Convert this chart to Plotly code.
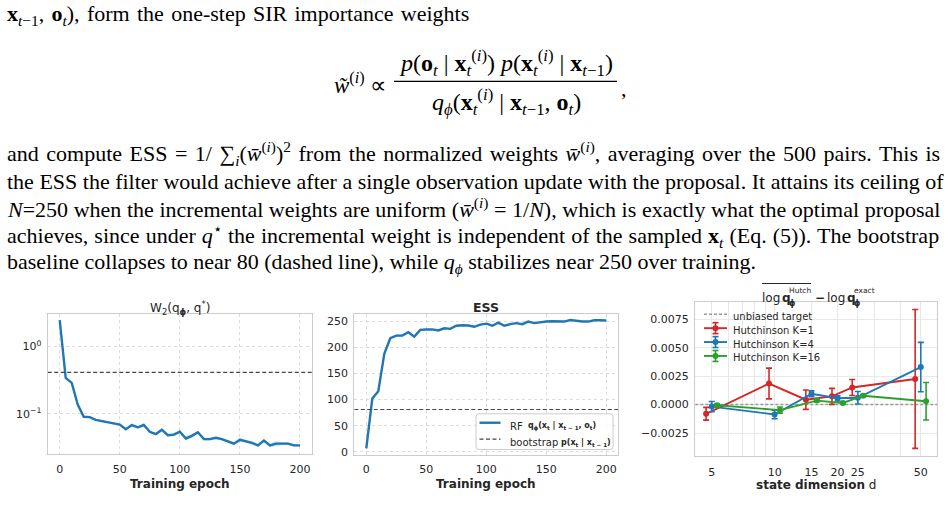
import plotly.graph_objects as go

W, H = 950, 522
def px(x): return x / W
def py(y): return 1 - y / H

# ---------------- data ----------------
epochs = list(range(0, 201, 5))
w2_mean = [2.44, 0.339, 0.286, 0.137, 0.090, 0.089, 0.081, 0.078, 0.076, 0.072, 0.069,
           0.059, 0.068, 0.063, 0.068, 0.054, 0.050, 0.058, 0.048, 0.049, 0.054,
           0.043, 0.047, 0.053, 0.042, 0.042, 0.044, 0.042, 0.039, 0.036, 0.041,
           0.039, 0.037, 0.034, 0.040, 0.034, 0.036, 0.036, 0.036, 0.034, 0.034]
w2_sd = [0.05, 0.01, 0.008, 0.005, 0.003, 0.003, 0.003, 0.003, 0.002, 0.002, 0.002,
         0.002, 0.004, 0.003, 0.005, 0.002, 0.002, 0.003, 0.002, 0.003, 0.003,
         0.003, 0.003, 0.002, 0.002, 0.002, 0.002, 0.002, 0.002, 0.002, 0.003,
         0.002, 0.002, 0.002, 0.002, 0.002, 0.003, 0.002, 0.002, 0.001, 0.001]
w2_bootstrap = 0.41

ess_mean = [6.4, 102, 116, 188, 218, 223, 223, 229.6, 221, 234, 234.7,
            235, 233, 237, 236, 242, 243, 242.5, 240, 244, 246,
            242, 248, 242, 245, 247, 245, 250, 247, 249, 250,
            250.6, 250.6, 250, 253, 251, 250, 250, 252.5, 252.5, 252]
ess_sd = [0.5, 1.5, 1.5, 2.0, 1.5, 2.0, 2.0, 1.5, 1.0, 1.0, 1.0,
          1.0, 1.0, 1.0, 1.0, 1.0, 1.0, 1.0, 1.0, 1.0, 1.0,
          1.0, 1.0, 1.0, 1.0, 1.0, 1.0, 1.0, 1.0, 1.0, 1.0,
          1.0, 1.0, 1.0, 1.0, 1.0, 1.0, 1.0, 1.0, 1.0, 1.0]
ess_bootstrap = 81

dims = [5, 10, 15, 20, 25, 50]
k1_mean = [-0.00081, 0.00185, 0.00043, 0.00072, 0.00150, 0.00225]
k1_err = [0.00056, 0.00135, 0.00085, 0.00070, 0.00070, 0.00610]
k4_mean = [-0.00018, -0.00087, 0.00095, 0.00055, 0.00060, 0.00329]
k4_err = [0.00045, 0.00038, 0.00025, 0.00023, 0.00055, 0.00217]
k16_mean = [-0.00006, -0.00049, 0.00035, 0.00014, 0.00078, 0.00029]
k16_err = [0.00010, 0.00027, 0.00010, 0.00010, 0.00010, 0.00165]

ytick_w2 = [0.1, 1]
ytick_w2_text = ["10<sup>−1</sup>", "10<sup>0</sup>"]
ytick_ess = [0, 50, 100, 150, 200, 250]
xtick_epoch = [0, 50, 100, 150, 200]
ytick_bias = [-0.0025, 0.0, 0.0025, 0.0050, 0.0075]
ytick_bias_text = ["−0.0025", "0.0000", "0.0025", "0.0050", "0.0075"]
xtick_dims = [5, 10, 15, 20, 25, 50]
xminor_dims = [6, 7, 8, 9, 30, 40]

# ---------------- styles ----------------
BLUE = "#1f77b4"
RED = "#d62728"
GREEN = "#2ca02c"
TXT = "#262626"
SANS = "DejaVu Sans"
SERIF = "Liberation Serif"
offsets = {"k1": 0.94, "k4": 1.0, "k16": 1.06}
DY = 3.5  # vertical correction for sans annotations

fig = go.Figure()

# panel 1
lo = [m - s for m, s in zip(w2_mean, w2_sd)]
hi = [m + s for m, s in zip(w2_mean, w2_sd)]
fig.add_trace(go.Scatter(x=epochs + epochs[::-1], y=hi + lo[::-1], fill="toself",
                         fillcolor="rgba(31,119,180,0.22)", line=dict(width=0),
                         hoverinfo="skip", showlegend=False, xaxis="x", yaxis="y"))
fig.add_trace(go.Scatter(x=epochs, y=w2_mean, mode="lines", line=dict(color=BLUE, width=2.4),
                         showlegend=False, xaxis="x", yaxis="y"))
fig.add_trace(go.Scatter(x=[-10, 210], y=[w2_bootstrap, w2_bootstrap], mode="lines",
                         line=dict(color="#444444", width=1.2, dash="4px,2.5px"),
                         showlegend=False, xaxis="x", yaxis="y"))

# panel 2
lo = [m - s for m, s in zip(ess_mean, ess_sd)]
hi = [m + s for m, s in zip(ess_mean, ess_sd)]
fig.add_trace(go.Scatter(x=epochs + epochs[::-1], y=hi + lo[::-1], fill="toself",
                         fillcolor="rgba(31,119,180,0.22)", line=dict(width=0),
                         hoverinfo="skip", showlegend=False, xaxis="x2", yaxis="y2"))
fig.add_trace(go.Scatter(x=epochs, y=ess_mean, mode="lines", line=dict(color=BLUE, width=2.4),
                         showlegend=False, xaxis="x2", yaxis="y2"))
fig.add_trace(go.Scatter(x=[-10, 210], y=[ess_bootstrap, ess_bootstrap], mode="lines",
                         line=dict(color="#444444", width=1.2, dash="4px,2.5px"),
                         showlegend=False, xaxis="x2", yaxis="y2"))

# panel 3
fig.add_trace(go.Scatter(x=[3, 70], y=[0, 0], mode="lines",
                         line=dict(color="#999999", width=1.4, dash="3px,2px"),
                         showlegend=False, xaxis="x3", yaxis="y3"))
for key, mean, err, col in [("k1", k1_mean, k1_err, RED), ("k4", k4_mean, k4_err, BLUE),
                            ("k16", k16_mean, k16_err, GREEN)]:
    xs = [d * offsets[key] for d in dims]
    fig.add_trace(go.Scatter(x=xs, y=mean, mode="lines+markers",
                             line=dict(color=col, width=1.9),
                             marker=dict(color=col, size=6),
                             error_y=dict(type="data", array=err, visible=True, color=col,
                                          thickness=1.6, width=3),
                             showlegend=False, xaxis="x3", yaxis="y3"))

axis_common = dict(showline=True, mirror=True, linecolor="#cccccc", linewidth=1.25,
                   ticks="", zeroline=False, tickfont=dict(family=SANS, size=11, color=TXT))
dotgrid = dict(showgrid=True, gridcolor="#dcdcdc", gridwidth=1, griddash="dot")

fig.update_layout(
    width=W, height=H, margin=dict(l=0, r=0, t=0, b=0),
    paper_bgcolor="white", plot_bgcolor="white", showlegend=False,
    xaxis=dict(domain=[px(47.7), px(312)], range=[-10, 210], anchor="y",
               tickvals=xtick_epoch, ticklabelstandoff=4, **dotgrid, **axis_common),
    yaxis=dict(domain=[py(457.7), py(316)], type="log", range=[-1.6, 0.485], anchor="x",
               tickvals=ytick_w2, ticktext=ytick_w2_text, ticklabelstandoff=3,
               **dotgrid, **axis_common),
    xaxis2=dict(domain=[px(354.3), px(618.3)], range=[-10, 210], anchor="y2",
                tickvals=xtick_epoch, ticklabelstandoff=4, **dotgrid, **axis_common),
    yaxis2=dict(domain=[py(458.3), py(316.7)], range=[-6, 264], anchor="x2",
                tickvals=ytick_ess, ticklabelstandoff=3, **dotgrid, **axis_common),
    xaxis3=dict(domain=[px(695), px(937.3)], type="log", range=[0.619, 1.778], anchor="y3",
                tickvals=xtick_dims, ticktext=[str(d) for d in xtick_dims], ticklabelstandoff=5,
                showgrid=True, gridcolor="#e8e8e8", gridwidth=1.2,
                minor=dict(tickmode="array", tickvals=xminor_dims, showgrid=True,
                           gridcolor="#e8e8e8", gridwidth=1.2),
                **axis_common),
    yaxis3=dict(domain=[py(460), py(304)], range=[-0.00456, 0.00904], anchor="x3",
                tickvals=ytick_bias, ticktext=ytick_bias_text, ticklabelstandoff=3,
                showgrid=True, gridcolor="#e8e8e8", gridwidth=1.2, **axis_common),
)

ann = []
shapes = []
def A(text, x, y, size, family=SANS, xanchor="center", yanchor="middle", color=TXT, dy=None):
    if dy is None:
        dy = DY if family == SANS else 0
    ann.append(dict(text=text, x=px(x), y=py(y + dy), xref="paper", yref="paper", showarrow=False,
                    xanchor=xanchor, yanchor=yanchor, font=dict(family=family, size=size, color=color)))

def L(x0, y0, x1, y1, color, width, dash=None):
    ln = dict(color=color, width=width)
    if dash:
        ln["dash"] = dash
    shapes.append(dict(type="line", xref="paper", yref="paper", x0=px(x0), x1=px(x1),
                       y0=py(y0), y1=py(y1), line=ln))

# panel titles / axis titles
A("W<sub>2</sub>(q<sub><b>ϕ</b></sub>, q<sup>*</sup>)", 180, 307, 12)
A("<b>ESS</b>", 486, 306, 12.5)
# composed title of panel 3 (stacked sub/superscripts)
A("log", 760, 297, 12, xanchor="left")
A("<b>q</b>", 780, 297, 12, xanchor="left")
A("<b>ϕ</b>", 787, 302, 8, xanchor="left")
A("Hutch", 787, 289.5, 7.5, xanchor="left")
A("<b>−</b>", 812.5, 297, 12, xanchor="left")
A("log", 825, 297, 12, xanchor="left")
A("<b>q</b>", 844.5, 297, 12, xanchor="left")
A("<b>ϕ</b>", 851.5, 302, 8, xanchor="left")
A("exact", 851.5, 289.5, 7.5, xanchor="left")
L(762, 285.7, 811, 285.7, TXT, 1)

A("<b>Training epoch</b>", 180, 484.5, 12)
A("<b>Training epoch</b>", 486, 484.5, 12)
A("<b>state dimension</b> d", 816, 485, 12)

# ESS legend (manual)
def rrect(x0, y0, x1, y1, r):
    rx, ry = r / W, r / H
    X0, X1, Y0, Y1 = px(x0), px(x1), py(y0), py(y1)
    return (f"M {X0+rx} {Y0} L {X1-rx} {Y0} Q {X1} {Y0} {X1} {Y0-ry} L {X1} {Y1+ry} "
            f"Q {X1} {Y1} {X1-rx} {Y1} L {X0+rx} {Y1} Q {X0} {Y1} {X0} {Y1+ry} "
            f"L {X0} {Y0-ry} Q {X0} {Y0} {X0+rx} {Y0} Z")
shapes.append(dict(type="path", xref="paper", yref="paper", path=rrect(476, 417, 613, 453, 3),
                   fillcolor="rgba(255,255,255,0.85)", line=dict(color="#cccccc", width=1)))
L(479.5, 426, 500.5, 426, BLUE, 2.4)
L(479.5, 442.5, 500.5, 442.5, "#444444", 1.2, "4px,2.5px")
A("RF", 507.5, 426, 10, xanchor="left")
A("<b>q</b><sub><b>ϕ</b></sub><b>(x</b><sub><b>t</b></sub><b> | x</b><sub><b>t − 1</b></sub><b>, o</b><sub><b>t</b></sub><b>)</b>",
  526, 426, 8, xanchor="left")
A("bootstrap", 507.5, 442.5, 10, xanchor="left")
A("<b>p(x</b><sub><b>t</b></sub><b> | x</b><sub><b>t − 1</b></sub><b>)</b>", 559, 442.5, 8, xanchor="left")

# bias legend (manual)
rows = [(316.7, "unbiased target", None), (330.7, "Hutchinson K=1", RED),
        (344.7, "Hutchinson K=4", BLUE), (358.7, "Hutchinson K=16", GREEN)]
for yy, label, col in rows:
    if col is None:
        L(704, yy, 727, yy, "#999999", 1.4, "3px,2px")
    else:
        L(704, yy, 727, yy, col, 1.9)
        L(715.5, yy - 5.5, 715.5, yy + 5.5, col, 1.6)
        for cy in (yy - 5.5, yy + 5.5):
            L(712.5, cy, 718.5, cy, col, 1.6)
        shapes.append(dict(type="circle", xref="paper", yref="paper", x0=px(712.5), x1=px(718.5),
                           y0=py(yy + 3), y1=py(yy - 3), fillcolor=col, line=dict(color=col, width=0)))
    A(label, 730.5, yy, 10, xanchor="left", dy=2)

# ---------------- paragraph text ----------------
BX = "<b>x</b>"
BO = "<b>o</b>"
IT = "<i>t</i>"
WI = "<sup>(<i>i</i>)</sup>"
line0 = f"{BX}<sub>{IT}−1</sub>, {BO}<sub>{IT}</sub>), form the one-step SIR importance weights"
A(f'<span style="word-spacing:1.8px">{line0}</span>', 5, 15, 22, family=SERIF, xanchor="left", color="black")

A(f"<i>w̃</i>{WI} ∝", 388, 84, 23, family=SERIF, xanchor="right", color="black")
A(f"<i>p</i>({BO}<sub>{IT}</sub> | {BX}<sub>{IT}</sub>{WI}) <i>p</i>({BX}<sub>{IT}</sub>{WI} | {BX}<sub>{IT}−1</sub>)",
  506, 63, 24, family=SERIF, color="black")
L(394, 82, 617, 82, "black", 1.1)
A(f"<i>q</i><sub><i>ϕ</i></sub>({BX}<sub>{IT}</sub>{WI} | {BX}<sub>{IT}−1</sub>, {BO}<sub>{IT}</sub>)",
  506, 103, 24, family=SERIF, color="black")
A(",", 619, 89, 22, family=SERIF, xanchor="left", color="black")

WB = "<i>w̄</i>"
para = [
    f"and compute ESS = 1/ ∑<sub><i>i</i></sub>({WB}{WI})<sup>2</sup> from the normalized weights {WB}{WI}, averaging over the 500 pairs. This is",
    "the ESS the filter would achieve after a single observation update with the proposal. It attains its ceiling of",
    f"<i>N</i>=250 when the incremental weights are uniform ({WB}{WI} = 1/<i>N</i>), which is exactly what the optimal proposal",
    f"achieves, since under <i>q</i><sup>⋆</sup> the incremental weight is independent of the sampled {BX}<sub>{IT}</sub> (Eq. (5)). The bootstrap",
    f"baseline collapses to near 80 (dashed line), while <i>q</i><sub><i>ϕ</i></sub> stabilizes near 250 over training.",
]
wsp = [2.0, 0.0, 0.1, 0.6, 0.0]
ys = [155, 182.5, 210, 237.5, 265]
for t, yy, ws in zip(para, ys, wsp):
    A(f'<span style="word-spacing:{ws}px">{t}</span>', 5, yy, 22, family=SERIF, xanchor="left", color="black")

fig.update_layout(annotations=ann, shapes=shapes)
fig.write_html("out.html")
